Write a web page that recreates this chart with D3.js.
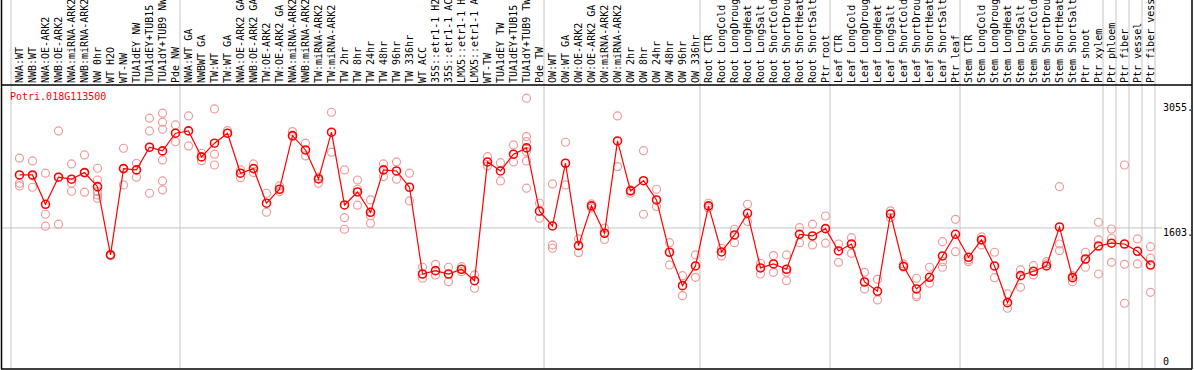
<!DOCTYPE html>
<html>
<head>
<meta charset="utf-8">
<script src="https://cdn.jsdelivr.net/npm/d3@7"></script>
<style>
  body { margin: 0; background: #fff; }
  text { font-family: "DejaVu Sans Mono", "Liberation Mono", monospace; font-size: 10px; }
</style>
</head>
<body>
<svg id="chart" width="1194" height="370"></svg>
<script>
const title = "Potri.018G113500";

// sample names as far as they show in the header (long ones run off the top)
const labels = [
  "NWA:WT", "NWB:WT", "NWA:OE-ARK2", "NWB:OE-ARK2", "NWA:miRNA-ARK2", "NWB:miRNA-ARK2",
  "NW 0hr", "WT H2O", "WT-NW", "TUA1dEY NW", "TUA1dEY+TUB15", "TUA1dY+TUB9 NW", "Pde NW",
  "NWA:WT GA", "NWBWT GA", "TW:WT", "TW:WT GA", "NWA:OE-ARK2 GA", "NWB:OE-ARK2 GA",
  "TW:OE-ARK2", "TW:OE-ARK2 GA", "NWA:miRNA-ARK2", "NWB:miRNA-ARK2", "TW:miRNA-ARK2",
  "TW:miRNA-ARK2", "TW 2hr", "TW 8hr", "TW 24hr", "TW 48hr", "TW 96hr", "TW 336hr", "WT ACC",
  "35S::etr1-1 H2", "35S::etr1-1 AC", "LMX5::etr1-1 H", "LMX5::etr1-1 A", "WT-TW",
  "TUA1dEY TW", "TUA1dEY+TUB15", "TUA1dY+TUB9 TW", "Pde TW",
  "OW:WT", "OW:WT GA", "OW:OE-ARK2", "OW:OE-ARK2 GA", "OW:miRNA-ARK2", "OW:miRNA-ARK2",
  "OW 2hr", "OW 8hr", "OW 24hr", "OW 48hr", "OW 96hr", "OW 336hr",
  "Root CTR", "Root LongCold", "Root LongDroug", "Root LongHeat", "Root LongSalt",
  "Root ShortCold", "Root ShortDrou", "Root ShortHeat", "Root ShortSalt", "Ptr root",
  "Leaf CTR", "Leaf LongCold", "Leaf LongDroug", "Leaf LongHeat", "Leaf LongSalt",
  "Leaf ShortCold", "Leaf ShortDrou", "Leaf ShortHeat", "Leaf ShortSalt", "Ptr leaf",
  "Stem CTR", "Stem LongCold", "Stem LongDroug", "Stem LongHeat", "Stem LongSalt",
  "Stem ShortCold", "Stem ShortDrou", "Stem ShortHeat", "Stem ShortSalt", "Ptr shoot", "Ptr xylem",
  "Ptr phloem", "Ptr fiber", "Ptr vessel", "Ptr fiber vess"
];

// number of samples in each block (grey lines between blocks)
const groupSizes = [13, 28, 12, 10, 10, 11, 1, 1, 1, 1];

const means = [
  2214, 2214, 1876, 2188, 2165, 2241, 2079, 1292, 2287, 2272, 2534, 2491, 2695,
  2722, 2422, 2580, 2695, 2234, 2287, 1888, 2049, 2667, 2502, 2168, 2707, 1868,
  2018, 1784, 2272, 2260, 2072, 1072, 1111, 1072, 1127, 995, 2364, 2260, 2453, 2526, 1796,
  1626, 2349, 1399, 1857, 1542, 2606, 2030, 2148, 1926, 1323, 938, 1165,
  1857, 1326, 1522, 1772, 1142, 1188, 1127, 1530, 1511, 1595,
  1338, 1418, 980, 873, 1764, 1161, 900, 1034, 1280, 1530,
  1265, 1465, 1165, 742, 1053, 1104, 1165, 1614, 1030, 1245, 1395,
  1427, 1418, 1334, 1176
];

const reps = [
  [2407, 2118, 2087], [2376, 2203, 2072], [2234, 1761, 1623], [2722, 2191, 1646],
  [2341, 2118, 2026], [2445, 2241, 2015], [2291, 2156, 2022, 1984, 1945], [1292, 1300, 1285],
  [2522, 2287, 2099], [2349, 2272, 2188], [2868, 2722, 2534, 2003],
  [2926, 2822, 2741, 2387, 2145, 2041], [2791, 2598],
  [2895, 2549], [2464, 2379], [2975, 2453, 2329], [2725, 2695], [2272, 2183], [2341, 2241],
  [2003, 1784], [2087, 2022], [2714, 2656], [2580, 2433], [2188, 2118], [2937, 2476],
  [2272, 1722, 1588], [2156, 2049, 1865], [1926, 1745, 1657], [2341, 2195], [2364, 2165],
  [2234, 1914], [1150, 1023], [1184, 1061], [1150, 984], [1157, 1099], [1061, 908],
  [2425, 2318], [2356, 2145], [2560, 2364], [3099, 2656, 2598, 2483, 2376, 2061],
  [1888, 1715],
  [2110, 1407, 1369], [2591, 2099], [1476, 1318], [1880, 1834], [1600, 1470], [2895, 2310],
  [2003, 2041], [2494, 1761], [2049, 1849], [1433, 1176], [1053, 822], [1292, 1034],
  [1888, 1834], [1369, 1280], [1588, 1433], [1876, 1676], [1196, 1072], [1284, 1092],
  [1292, 1092, 995], [1606, 1433], [1646, 1407], [1741, 1427],
  [1418, 1207], [1491, 1311], [1092, 900], [1011, 773], [1722, 1800], [1188, 1150],
  [1023, 830, 811], [1150, 965], [1445, 1214, 1150], [1703, 1330],
  [1234, 1214], [1407, 1500], [1323, 1030], [842, 677], [1119, 919], [1168, 1061],
  [1214, 1188], [2079, 1418, 1341], [1053, 984], [1323, 1150], [1669, 1465, 1072],
  [1591, 1484, 1207], [2329, 1184, 735], [1476, 1188], [1387, 1254, 861]
];

const yTicks = [3055, 1603, 0];

const headerBottom = 85;
const plotBottom = 369;
const rightEdge = 1192;

const svg = d3.select("#chart");

const xScale = d3.scaleBand()
  .domain(d3.range(labels.length))
  .range([13, 13 + 13 * labels.length])
  .paddingInner(0);
const cx = (i) => xScale(i) + xScale.bandwidth() / 2;
const bandStart = (k) => k < labels.length ? xScale(k) : xScale(labels.length - 1) + xScale.bandwidth();

const yScale = d3.scaleLinear()
  .domain([0, 3055])
  .range([367, 102]);

// block separators
let acc = 0;
const bounds = [0];
groupSizes.forEach(n => { acc += n; bounds.push(acc); });
svg.append("g").selectAll("line")
  .data(bounds)
  .join("line")
  .attr("x1", d => bandStart(d) - 2)
  .attr("x2", d => bandStart(d) - 2)
  .attr("y1", 0)
  .attr("y2", plotBottom)
  .attr("stroke", "#c4c4c4")
  .attr("stroke-width", 1);

// middle grid line
svg.append("line")
  .attr("x1", 2).attr("x2", 1162)
  .attr("y1", yScale(1603)).attr("y2", yScale(1603))
  .attr("stroke", "#c4c4c4");

// frame
svg.append("line").attr("x1", 1).attr("x2", rightEdge).attr("y1", headerBottom).attr("y2", headerBottom)
  .attr("stroke", "#000").attr("stroke-width", 1.5);
svg.append("line").attr("x1", 1).attr("x2", rightEdge).attr("y1", plotBottom).attr("y2", plotBottom)
  .attr("stroke", "#000").attr("stroke-width", 1.5);
svg.append("line").attr("x1", 1.5).attr("x2", 1.5).attr("y1", 0).attr("y2", plotBottom)
  .attr("stroke", "#000").attr("stroke-width", 1.5);
svg.append("line").attr("x1", rightEdge).attr("x2", rightEdge).attr("y1", 0).attr("y2", plotBottom)
  .attr("stroke", "#000").attr("stroke-width", 1.5);

// rotated sample labels
svg.append("g").selectAll("text")
  .data(labels)
  .join("text")
  .attr("transform", (d, i) => `translate(${cx(i) + 3.5}, 83) rotate(-90)`)
  .attr("fill", "#000")
  .text(d => d);

// right axis labels
svg.append("g").selectAll("text")
  .data(yTicks)
  .join("text")
  .attr("x", 1163)
  .attr("y", d => Math.min(yScale(d) + 8.5, 365))
  .attr("fill", "#000")
  .text(d => d === 0 ? "0" : d + ".");

// title
svg.append("text")
  .attr("x", 10).attr("y", 100)
  .attr("fill", "#ff0000")
  .text(title);

// replicate points
const repPoints = [];
reps.forEach((arr, i) => arr.forEach(v => repPoints.push({ i, v })));
svg.append("g").selectAll("circle")
  .data(repPoints)
  .join("circle")
  .attr("cx", d => cx(d.i))
  .attr("cy", d => yScale(d.v))
  .attr("r", 4)
  .attr("fill", "none")
  .attr("stroke", "#f09a9a")
  .attr("stroke-width", 1.2);

// mean line
const line = d3.line()
  .x((d, i) => cx(i))
  .y(d => yScale(d));
svg.append("path")
  .attr("d", line(means))
  .attr("fill", "none")
  .attr("stroke", "#ff0000")
  .attr("stroke-width", 1.2);

// mean points
svg.append("g").selectAll("circle")
  .data(means)
  .join("circle")
  .attr("cx", (d, i) => cx(i))
  .attr("cy", d => yScale(d))
  .attr("r", 4)
  .attr("fill", "none")
  .attr("stroke", "#ff0000")
  .attr("stroke-width", 1.6);
</script>
</body>
</html>
